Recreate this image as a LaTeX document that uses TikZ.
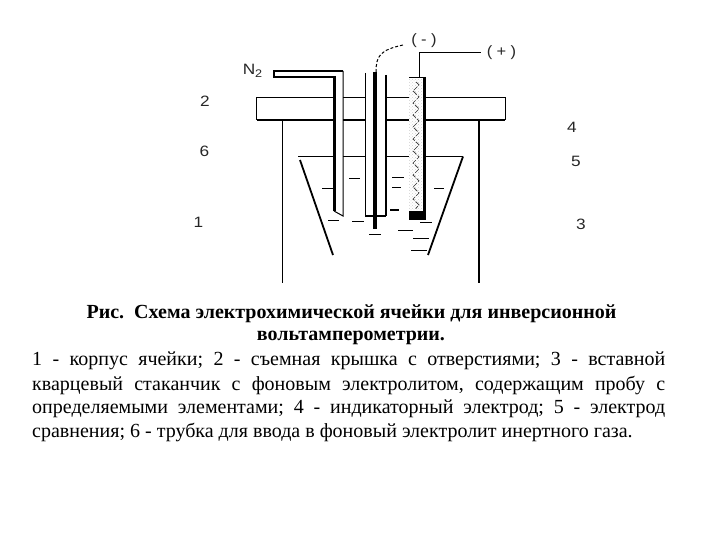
\documentclass[tikz,border=0pt]{standalone}
\usepackage{fontspec}
\setmainfont{Liberation Serif}
\newfontfamily\lblfont{Liberation Sans}
\usetikzlibrary{decorations.pathmorphing,patterns}
\tikzset{
  thinln/.style={line width=1pt,black},
  medln/.style={line width=1.8pt,black},
  thickln/.style={line width=3pt,black},
  dashmark/.style={line width=0.9pt,black},
  lbl/.style={font=\lblfont\fontsize{15}{15}\selectfont,text=black!85,inner sep=0pt,xscale=1.15},
  smalllbl/.style={font=\lblfont\fontsize{15}{15}\selectfont,text=black!85,inner sep=0pt,xscale=1.1},
  bodytxt/.style={font=\fontsize{20}{20}\selectfont\frenchspacing,anchor=base west,inner sep=0pt},
  captxt/.style={font=\bfseries\fontsize{20}{20}\selectfont\frenchspacing,anchor=base,inner sep=0pt}
}
\begin{document}
\begin{tikzpicture}[x=1pt,y=-1pt]
\useasboundingbox (0,0) rectangle (720,540);
% gas tube
\draw[medln] (343,71) -- (274,71) -- (274,77) -- (334,77);
\draw[thickln] (334,76) -- (334,211);
\draw[thinln] (343,71) -- (343,216) -- (334,211);
% lid
\draw[thinln] (334,98) -- (256.5,98) -- (256.5,120);
\draw[medln] (256.5,120) -- (334,120);
\draw[thinln] (343,98) -- (365,98);
\draw[medln] (343,120) -- (365,120);
\draw[thinln] (386,98) -- (409,98);
\draw[medln] (386,120) -- (409,120);
\draw[thinln] (425,98) -- (505,98) -- (505,120);
\draw[medln] (425,120) -- (505,120);
% cell walls
\draw[thinln] (282.5,120) -- (282.5,283);
\draw[medln] (479,120) -- (479,283);
% liquid level
\draw[thinln] (298,156.5) -- (334,156.5);
\draw[thinln] (343,156.5) -- (365,156.5);
\draw[thinln] (386,156.5) -- (409,156.5);
\draw[thinln] (425,156.5) -- (463,156.5);
% beaker
\draw[medln] (300,160) -- (333,255);
\draw[medln] (463,156.5) -- (428,255);
% central tube
\draw[thinln] (365,73) -- (365,216);
\draw[medln] (365,216) -- (386,216);
\draw[medln] (386,75) -- (386,216);
\draw[line width=3.5pt] (375,72) -- (375,229);
% dashed lead
\draw[thinln,densely dashed] (376,72) .. controls (376,56) and (380,50) .. (403,45);
% right electrode
\fill[pattern=crosshatch dots,pattern color=black!18] (409,80) rectangle (422,211);
\draw[line width=0.7pt,black!80,dash pattern=on 5pt off 1.5pt,decorate,decoration={zigzag,amplitude=3pt,segment length=12pt}] (416,82) -- (416,209);
\draw[medln] (409,77.5) -- (425,77.5);
\draw[thickln] (424,77) -- (424,214);
\fill (409,211) rectangle (425.5,220);
\draw[thinln] (419,77) -- (419,53) -- (481,53);
% electrolyte dashes
\foreach \xa/\xb/\yy in {322/333/188,349/360/178.5,328/339/220,352/364/221,369/381/234,392/404/177,392/401/187,398/413/230,413/429/238,411/427/250,420/432/222,434/444/188}
  \draw[dashmark] (\xa,\yy) -- (\xb,\yy);
\draw[medln] (390,210) -- (399,210);
% labels
\node[lbl] (nlabel) at (252.5,71) {N\raisebox{-3pt}{\fontsize{11}{11}\selectfont 2}};
\node[lbl] (l2) at (205,101) {2};
\node[lbl] (l6) at (204.5,151) {6};
\node[lbl] (l1) at (198.5,222) {1};
\node[lbl] (l4) at (572,127.5) {4};
\node[lbl] (l5) at (576,161) {5};
\node[lbl] (l3) at (581,224) {3};
\node[smalllbl] (minus) at (424,41) {(\hspace{4pt}-\hspace{4pt})};
\node[smalllbl] (plus) at (501.5,53) {(\hspace{4pt}+\hspace{4pt})};
% caption
\node[captxt] (c1) at (351.5,318) {Рис.\ \ Схема электрохимической ячейки для инверсионной};
\node[captxt] (c2) at (351,340) {вольтамперометрии.};
\node[bodytxt] (t1) at (32,365) {\hbox to 633pt{1 - корпус ячейки; 2 - съемная крышка с отверстиями; 3 - вставной}};
\node[bodytxt] (t2) at (32,390) {\hbox to 633pt{кварцевый стаканчик с фоновым электролитом, содержащим пробу с}};
\node[bodytxt] (t3) at (32,413.5) {\hbox to 633pt{определяемыми элементами; 4 - индикаторный электрод; 5 - электрод}};
\node[bodytxt] (t4) at (32,437.5) {сравнения; 6 - трубка для ввода в фоновый электролит инертного газа.};
\end{tikzpicture}
\end{document}
